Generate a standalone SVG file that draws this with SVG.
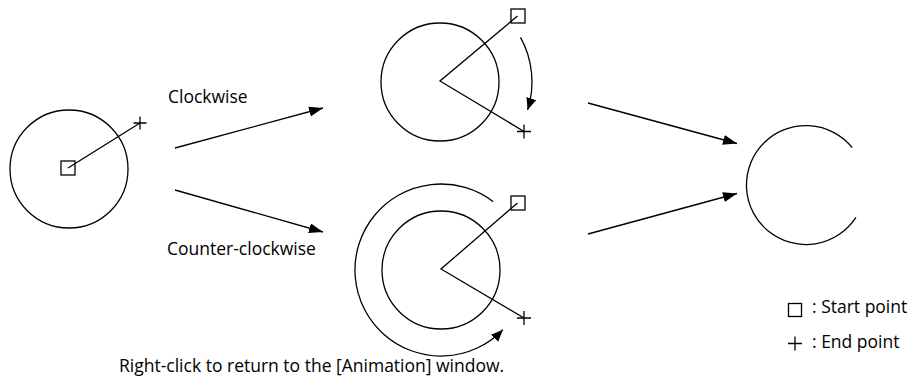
<svg xmlns="http://www.w3.org/2000/svg" width="914" height="378" viewBox="0 0 914 378">
<style>
.s{fill:none;stroke:#000;stroke-width:1.3}
.t{font-family:"Open Sans","Noto Sans","Liberation Sans",sans-serif;font-size:17.5px;fill:#000}
</style>
<defs>
<marker id="ah" markerUnits="userSpaceOnUse" markerWidth="15" markerHeight="11" refX="14" refY="5" orient="auto">
<path d="M0,0 L14,5 L0,10 z" fill="#000"/>
</marker>
<marker id="ah2" markerUnits="userSpaceOnUse" markerWidth="13" markerHeight="11" refX="12" refY="5" orient="auto">
<path d="M0,0 L12,5 L0,10 z" fill="#000"/>
</marker>
</defs>
<rect width="914" height="378" fill="#fff"/>
<g id="start">
<circle class="s" cx="69" cy="169" r="59"/>
<line class="s" x1="68" y1="168" x2="140" y2="123"/>
<rect class="s" x="61" y="161" width="14" height="14"/>
<path class="s" d="M133.5,123 H146.5 M140,116.5 V129.5"/>
</g>
<g id="clockwise">
<circle class="s" cx="440" cy="82" r="59"/>
<path class="s" d="M517.5,16 L440,81 L524,131.5"/>
<rect class="s" x="511" y="9" width="14" height="14"/>
<path class="s" d="M517,131.5 H531 M524,124.5 V138.5"/>
<path class="s" d="M520.5,37.4 A92,92 0 0 1 527.6,110" marker-end="url(#ah2)"/>
</g>
<g id="counterclockwise">
<circle class="s" cx="441" cy="270" r="59"/>
<path class="s" d="M517.5,203 L441,269 L524,318"/>
<rect class="s" x="511" y="196" width="14" height="14"/>
<path class="s" d="M517,318 H531 M524,311 V325"/>
<path class="s" d="M493.2,201.7 A86,86 0 1 0 502.9,329.7" marker-end="url(#ah2)"/>
</g>
<g id="result">
<path class="s" d="M852.2,147.6 A59.5,59.5 0 1 0 855.9,217.4"/>
</g>
<g id="connectors">
<line class="s" x1="175" y1="148" x2="323" y2="108" marker-end="url(#ah)"/>
<line class="s" x1="175" y1="190" x2="323" y2="232" marker-end="url(#ah)"/>
<line class="s" x1="588" y1="103" x2="737" y2="143.5" marker-end="url(#ah)"/>
<line class="s" x1="588" y1="234" x2="737" y2="193.5" marker-end="url(#ah)"/>
</g>
<g id="labels">
<text class="t" x="168" y="103">Clockwise</text>
<text class="t" x="167" y="255">Counter-clockwise</text>
<text class="t" x="119" y="372">Right-click to return to the [Animation] window.</text>
</g>
<g id="legend">
<rect class="s" x="788.5" y="303.5" width="13" height="13"/>
<text class="t" x="812" y="313">: Start point</text>
<path class="s" d="M788,343.5 H802 M795,336.5 V350.5"/>
<text class="t" x="812" y="348">: End point</text>
</g>
</svg>
